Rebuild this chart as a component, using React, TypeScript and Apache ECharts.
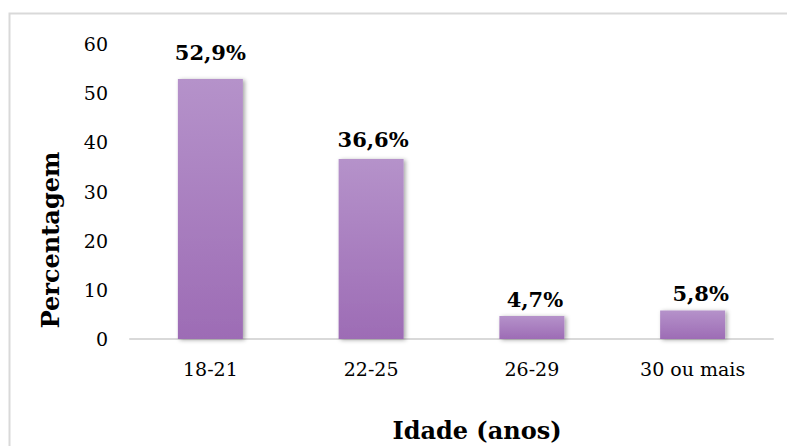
import React, { useEffect, useRef } from "react";
import * as echarts from "echarts";

const categories = ["18-21", "22-25", "26-29", "30 ou mais"];
const values = [52.9, 36.6, 4.7, 5.8];
const valueLabels = ["52,9%", "36,6%", "4,7%", "5,8%"];
// label gap above each bar and horizontal nudge, in px
const labelGaps = [16, 9, 6, 6];
const labelShifts = [0, 2, 3, 8];

const FONT = "'DejaVu Serif', 'Liberation Serif', serif";

export default function App() {
  const ref = useRef<HTMLDivElement>(null);

  useEffect(() => {
    document.body.style.margin = "0";
    if (!ref.current) return;
    const chart = echarts.init(ref.current, null, { renderer: "svg" });
    chart.setOption({
      animation: false,
      backgroundColor: "#ffffff",
      textStyle: { fontFamily: FONT, color: "#000" },
      graphic: [
        {
          type: "rect",
          shape: { x: 9.5, y: 13.5, width: 820, height: 500 },
          style: { fill: "none", stroke: "#d9d9d9", lineWidth: 2 },
          silent: true,
        },
        {
          type: "text",
          x: 50,
          y: 240,
          rotation: Math.PI / 2,
          style: {
            text: "Percentagem",
            font: `bold 24px ${FONT}`,
            fill: "#000",
            align: "center",
            verticalAlign: "middle",
          },
        },
        {
          type: "text",
          x: 477,
          y: 430,
          style: {
            text: "Idade (anos)",
            font: `bold 24px ${FONT}`,
            fill: "#000",
            align: "center",
            verticalAlign: "middle",
          },
        },
      ],
      grid: { left: 130, right: 14, top: 44, bottom: 107, containLabel: false },
      xAxis: {
        type: "category",
        data: categories,
        axisLine: { show: true, lineStyle: { color: "#d9d9d9", width: 2 } },
        axisTick: { show: false },
        axisLabel: { fontFamily: FONT, fontSize: 19, color: "#000", margin: 20 },
      },
      yAxis: {
        type: "value",
        min: 0,
        max: 60,
        interval: 10,
        axisLine: { show: false },
        axisTick: { show: false },
        splitLine: { show: false },
        axisLabel: { fontFamily: FONT, fontSize: 19, color: "#000", margin: 22 },
      },
      series: [
        {
          type: "bar",
          data: values.map((v, i) => ({
            value: v,
            label: { distance: labelGaps[i], offset: [labelShifts[i], 0] },
          })),
          barWidth: 65,
          itemStyle: {
            color: new echarts.graphic.LinearGradient(0, 0, 0, 1, [
              { offset: 0, color: "#b592ca" },
              { offset: 1, color: "#9d6cb5" },
            ]),
            shadowColor: "rgba(0,0,0,0.35)",
            shadowBlur: 4,
            shadowOffsetX: 2,
            shadowOffsetY: 1,
          },
          label: {
            show: true,
            position: "top",
            fontFamily: FONT,
            fontWeight: "bold",
            fontSize: 21,
            color: "#000",
            formatter: (p: any) => valueLabels[p.dataIndex],
          },
        },
      ],
    });
    return () => chart.dispose();
  }, []);

  return <div ref={ref} style={{ width: 787, height: 446 }} />;
}
